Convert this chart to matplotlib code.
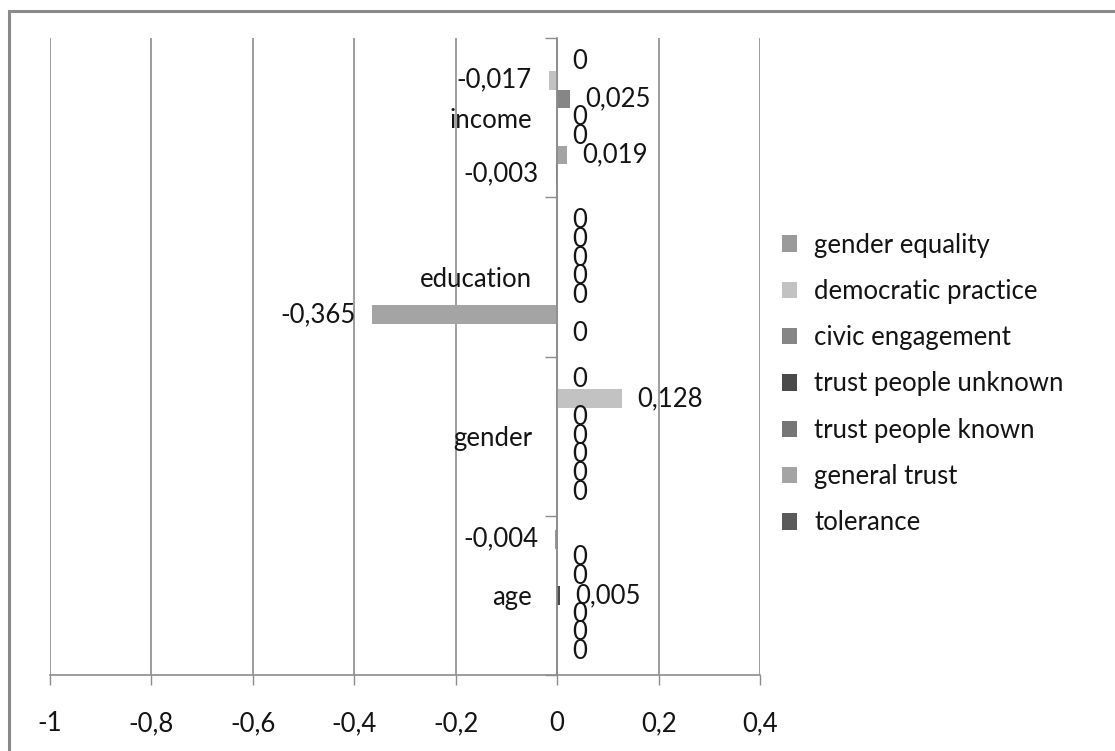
import matplotlib
matplotlib.use("Agg")
import matplotlib.pyplot as plt
import numpy as np
from matplotlib.patches import Rectangle
from matplotlib.ticker import FuncFormatter, FixedLocator

plt.rcParams['font.family'] = ['Lato', 'DejaVu Sans']

categories = ['age', 'gender', 'education', 'income']
series_names = ['gender equality', 'democratic practice', 'civic engagement',
                'trust people unknown', 'trust people known', 'general trust', 'tolerance']
# values per series, in category order (age, gender, education, income)
gender_equality = [-0.004, 0, 0, 0]
democratic_practice = [0, 0.128, 0, -0.017]
civic_engagement = [0, 0, 0, 0.025]
trust_people_unknown = [0.005, 0, 0, 0]
trust_people_known = [0, 0, 0, 0]
general_trust = [0, 0, -0.365, 0.019]
tolerance = [0, 0, 0, -0.003]
series_values = [gender_equality, democratic_practice, civic_engagement,
                 trust_people_unknown, trust_people_known, general_trust, tolerance]
colors = ['#9a9a9a', '#c2c2c2', '#868686', '#4a4a4a', '#767676', '#a4a4a4', '#5a5a5a']
x_ticks = [-1, -0.8, -0.6, -0.4, -0.2, 0, 0.2, 0.4]

W, H = 1115, 751
fig = plt.figure(figsize=(W / 100, H / 100), dpi=100)
ax = fig.add_axes([50 / W, 1 - 675 / H, 710 / W, (675 - 38) / H])

fs = 18.5
txt_color = '#141414'
grid_color = '#8c8c8c'

h = 1 / 8.5
yc = np.arange(len(categories))
for j, (name, vals, col) in enumerate(zip(series_names, series_values, colors)):
    ypos = yc + (3 - j) * h
    ax.barh(ypos, vals, height=h, color=col, label=name, zorder=3)
    for y, v in zip(ypos, vals):
        s = ('%g' % v).replace('.', ',')
        if v < 0:
            ax.annotate(s, (v, y), xytext=(-12, 0), textcoords='offset points',
                        ha='right', va='center', fontsize=fs, color=txt_color, zorder=4)
        else:
            ax.annotate(s, (v, y), xytext=(11, 0), textcoords='offset points',
                        ha='left', va='center', fontsize=fs, color=txt_color, zorder=4)

ax.set_xlim(-1, 0.4)
ax.set_ylim(-0.5, 3.5)
ax.set_xticks(x_ticks)
ax.xaxis.set_major_formatter(FuncFormatter(lambda v, p: ('%g' % round(v, 2)).replace('.', ',')))
ax.tick_params(axis='x', length=7, width=1, color=grid_color, labelsize=fs,
               labelcolor=txt_color, pad=19)
ax.grid(axis='x', color=grid_color, linewidth=1.2, zorder=0)

for s in ['top', 'right']:
    ax.spines[s].set_visible(False)
ax.spines['left'].set_position(('data', 0))
ax.spines['left'].set_color(grid_color)
ax.spines['left'].set_linewidth(1.2)
ax.spines['left'].set_zorder(3.5)
ax.spines['bottom'].set_color(grid_color)
ax.spines['bottom'].set_linewidth(1.2)

ax.yaxis.set_major_locator(FixedLocator(yc))
ax.set_yticklabels(categories)
ax.yaxis.set_minor_locator(FixedLocator(np.arange(-0.5, 3.6, 1.0)))
ax.tick_params(axis='y', which='major', length=0, labelsize=fs, labelcolor=txt_color, pad=18)
ax.tick_params(axis='y', which='minor', length=9, width=1, color=grid_color)

handles, labels = ax.get_legend_handles_labels()
leg = fig.legend(handles, labels, loc='center left', bbox_to_anchor=(782 / W, 1 - 384 / H),
                 frameon=False, fontsize=fs, handlelength=0.6, handleheight=0.6,
                 handletextpad=0.65, labelspacing=0.83, borderpad=0, borderaxespad=0)
for t in leg.get_texts():
    t.set_color(txt_color)

fig.patches.append(Rectangle((8.5 / W, -0.1), 2, 1.1 - 11 / H, transform=fig.transFigure,
                             fill=False, edgecolor='#8a8a8a', linewidth=2.2))

fig.savefig('out.png', dpi=100)
